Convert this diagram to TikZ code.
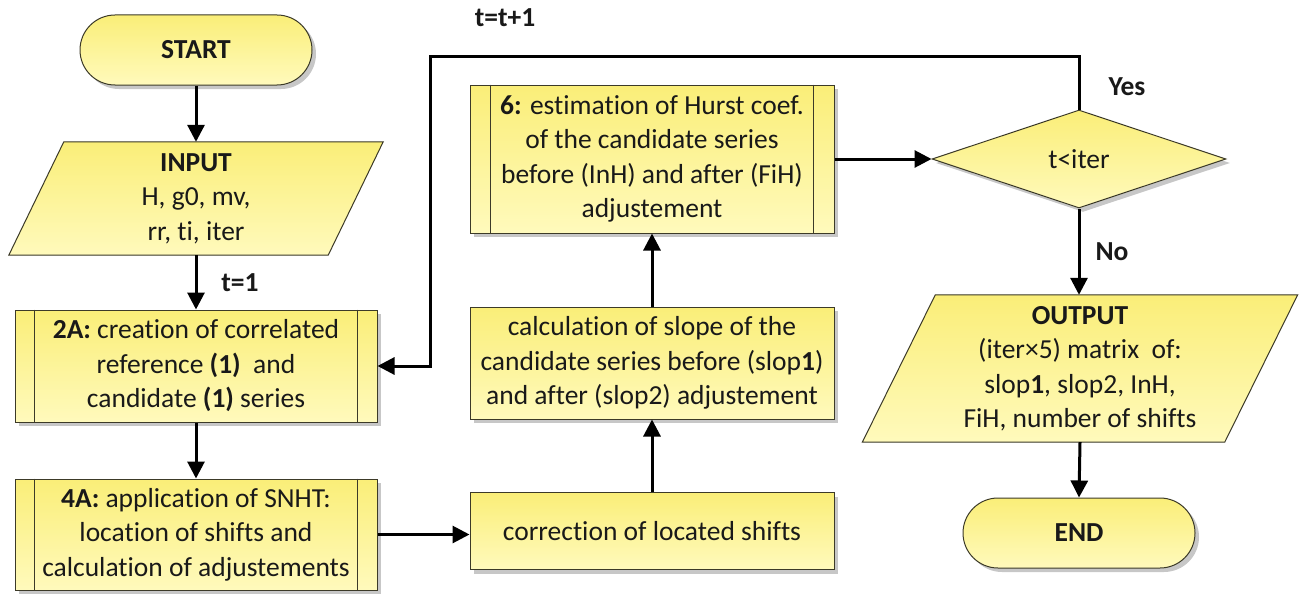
\documentclass[tikz,border=0pt]{standalone}
\usepackage{fontspec}
\setmainfont{Carlito}[Ligatures=NoCommon]
\usetikzlibrary{arrows.meta,shapes.geometric,shadows,calc}
\pgfdeclarelayer{background}
\pgfsetlayers{background,main}
\definecolor{boxtop}{RGB}{250,238,120}
\definecolor{boxbot}{RGB}{255,250,188}
\definecolor{boxedge}{RGB}{60,58,40}
\definecolor{txt}{RGB}{25,25,25}

\begin{document}
\begin{tikzpicture}[x=1pt,y=-1pt,
  every node/.style={font=\fontsize{27.5}{34.5}\selectfont, text=txt, align=center, inner sep=0pt},
  boxfill/.style={top color=boxtop, bottom color=boxbot, draw=boxedge, line width=1pt},
  shadowed/.style={drop shadow={shadow xshift=4pt, shadow yshift=-4pt, fill=black, opacity=0.22}},
  term/.style={rectangle, rounded corners=35pt, minimum width=232pt, minimum height=70pt,
    boxfill, shadowed, font=\fontsize{27.5}{34.5}\selectfont\bfseries},
  proc/.style={rectangle, boxfill, shadowed},
  decision/.style={diamond, boxfill, shadowed, minimum width=294pt, minimum height=98pt},
  iobox/.style={rectangle, draw=none},
  lbl/.style={font=\fontsize{27.5}{34.5}\selectfont\bfseries},
  arr/.style={-{Triangle[length=17pt,width=17pt]}, line width=3pt, black},
  innerline/.style={draw=boxedge, line width=1pt}
]
\useasboundingbox (0,0) rectangle (1306,594);

% terminals
\node[term] (start) at (196,50) {START};
\node[term] (end) at (1079,533) {END};

% input / output (parallelogram outlines drawn on the background layer)
\node[iobox, minimum width=319pt, minimum height=113pt] (inp) at (196,198.5)
  {\textbf{INPUT}\\H, g0, mv,\\rr, ti, iter};
\node[iobox, minimum width=362pt, minimum height=147pt] (out) at (1080,368.5)
  {\textbf{OUTPUT}\\(iter×5) matrix\ \ of:\\slop\textbf{1}, slop2, InH,\\FiH, number of shifts};

% process boxes
\node[proc, minimum width=362pt, minimum height=112pt] (b2a) at (196,366)
  {\textbf{2A:} creation of correlated\\reference \textbf{(1)}\ \ and\\candidate \textbf{(1)} series};
\node[proc, minimum width=362pt, minimum height=111pt] (b4a) at (196,534.5)
  {\textbf{4A:} application of SNHT:\\location of shifts and\\calculation of adjustements};
\node[proc, minimum width=364pt, minimum height=77pt] (corr) at (652,531)
  {correction of located shifts};
\node[proc, minimum width=364pt, minimum height=112pt] (slope) at (652,363)
  {calculation of slope of the\\candidate series before (slop\textbf{1})\\and after (slop2) adjustement};
\node[proc, minimum width=364pt, minimum height=148pt] (hurst) at (652,159)
  {\textbf{6:} estimation of Hurst coef.\\of the candidate series\\before (InH) and after (FiH)\\adjustement};

% decision
\node[decision] (dec) at (1079,159) {t<iter};

% side bars of the predefined-process boxes
\foreach \n/\d in {b2a/20, b4a/20, hurst/21} {
  \draw[innerline] ($(\n.north west)+(\d,0)$) -- ($(\n.south west)+(\d,0)$);
  \draw[innerline] ($(\n.north east)+(-\d,0)$) -- ($(\n.south east)+(-\d,0)$);
}

\begin{pgfonlayer}{background}
  \fill[white] (0,0) rectangle (1306,594);
  \foreach \n/\s in {inp/27.5, out/36.5} {
    \fill[black, opacity=0.22, shift={(4,4)}]
      ($(\n.north west)+(\s,0)$) -- ($(\n.north east)+(\s,0)$) --
      ($(\n.south east)+(-\s,0)$) -- ($(\n.south west)+(-\s,0)$) -- cycle;
    \path[boxfill]
      ($(\n.north west)+(\s,0)$) -- ($(\n.north east)+(\s,0)$) --
      ($(\n.south east)+(-\s,0)$) -- ($(\n.south west)+(-\s,0)$) -- cycle;
  }
\end{pgfonlayer}

% labels
\node[lbl] (lt1) at (240,283) {t=1};
\node[lbl] (ltt) at (505,18) {t=t+1};
\node[lbl] (lyes) at (1127,87) {Yes};
\node[lbl] (lno) at (1112,252) {No};

% connectors
\coordinate (looptop) at (430,57);
\draw[arr] (start.south) -- (inp.north);
\draw[arr] (inp.south) -- (b2a.north);
\draw[arr] (b2a.south) -- (b4a.north);
\draw[arr] (b4a.east) -- (b4a.east -| corr.west);
\draw[arr] (corr.north) -- (slope.south);
\draw[arr] (slope.north) -- (hurst.south);
\draw[arr] (hurst.east) -- (dec.west);
\draw[arr] (dec.north) |- (looptop) |- (b2a.east);
\draw[arr] (dec.south) -- (dec.south |- out.north);
\draw[arr] (out.south) -- (end.north);
\end{tikzpicture}
\end{document}
